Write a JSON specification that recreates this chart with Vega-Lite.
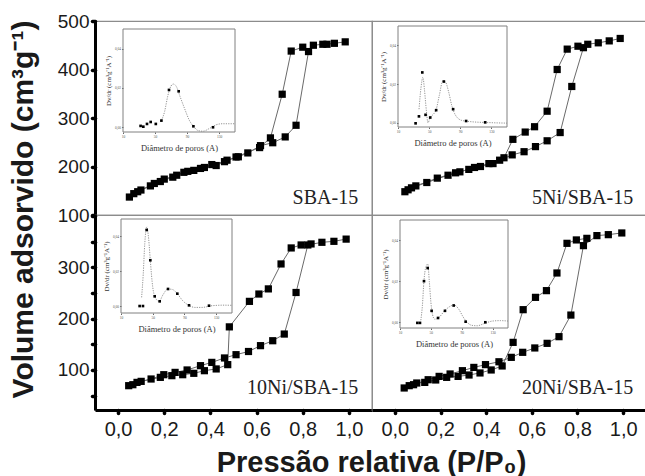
{
  "$schema": "https://vega.github.io/schema/vega-lite/v6.json",
  "padding": {"left": 7, "top": 11, "right": 0, "bottom": 0},
  "background": "white",
  "spacing": 0,
  "bounds": "flush",
  "columns": 2,
  "datasets": {
    "lab": [
      {"s": "SBA-15", "t": "SBA-15"},
      {"s": "5Ni", "t": "5Ni/SBA-15"},
      {"s": "10Ni", "t": "10Ni/SBA-15"},
      {"s": "20Ni", "t": "20Ni/SBA-15"}
    ],
    "iso": [
      {"s": "SBA-15", "b": "ads", "p": 0.049, "v": 137},
      {"s": "SBA-15", "b": "ads", "p": 0.085, "v": 148},
      {"s": "SBA-15", "b": "ads", "p": 0.14, "v": 160},
      {"s": "SBA-15", "b": "ads", "p": 0.183, "v": 169},
      {"s": "SBA-15", "b": "ads", "p": 0.237, "v": 178},
      {"s": "SBA-15", "b": "ads", "p": 0.285, "v": 188},
      {"s": "SBA-15", "b": "ads", "p": 0.328, "v": 192},
      {"s": "SBA-15", "b": "ads", "p": 0.374, "v": 198},
      {"s": "SBA-15", "b": "ads", "p": 0.425, "v": 202},
      {"s": "SBA-15", "b": "ads", "p": 0.472, "v": 213},
      {"s": "SBA-15", "b": "ads", "p": 0.521, "v": 220},
      {"s": "SBA-15", "b": "ads", "p": 0.562, "v": 228},
      {"s": "SBA-15", "b": "ads", "p": 0.617, "v": 243},
      {"s": "SBA-15", "b": "ads", "p": 0.67, "v": 249},
      {"s": "SBA-15", "b": "ads", "p": 0.724, "v": 261},
      {"s": "SBA-15", "b": "ads", "p": 0.771, "v": 285},
      {"s": "SBA-15", "b": "ads", "p": 0.825, "v": 437},
      {"s": "SBA-15", "b": "ads", "p": 0.846, "v": 450},
      {"s": "SBA-15", "b": "ads", "p": 0.887, "v": 452},
      {"s": "SBA-15", "b": "ads", "p": 0.905, "v": 452},
      {"s": "SBA-15", "b": "ads", "p": 0.937, "v": 454},
      {"s": "SBA-15", "b": "ads", "p": 0.984, "v": 457},
      {"s": "SBA-15", "b": "des", "p": 0.80, "v": 446},
      {"s": "SBA-15", "b": "des", "p": 0.75, "v": 438},
      {"s": "SBA-15", "b": "des", "p": 0.711, "v": 349},
      {"s": "SBA-15", "b": "des", "p": 0.66, "v": 259},
      {"s": "SBA-15", "b": "des", "p": 0.613, "v": 239},
      {"s": "SBA-15", "b": "des", "p": 0.511, "v": 219.6},
      {"s": "SBA-15", "b": "des", "p": 0.461, "v": 210},
      {"s": "SBA-15", "b": "des", "p": 0.406, "v": 204},
      {"s": "SBA-15", "b": "des", "p": 0.357, "v": 196},
      {"s": "SBA-15", "b": "des", "p": 0.302, "v": 190},
      {"s": "SBA-15", "b": "des", "p": 0.254, "v": 182},
      {"s": "SBA-15", "b": "des", "p": 0.2, "v": 174},
      {"s": "SBA-15", "b": "des", "p": 0.157, "v": 165},
      {"s": "SBA-15", "b": "des", "p": 0.099, "v": 151.5},
      {"s": "SBA-15", "b": "des", "p": 0.068, "v": 144},

      {"s": "5Ni", "b": "ads", "p": 0.044, "v": 148},
      {"s": "5Ni", "b": "ads", "p": 0.073, "v": 156},
      {"s": "5Ni", "b": "ads", "p": 0.14, "v": 167},
      {"s": "5Ni", "b": "ads", "p": 0.233, "v": 182},
      {"s": "5Ni", "b": "ads", "p": 0.285, "v": 189},
      {"s": "5Ni", "b": "ads", "p": 0.349, "v": 198},
      {"s": "5Ni", "b": "ads", "p": 0.412, "v": 206},
      {"s": "5Ni", "b": "ads", "p": 0.459, "v": 213},
      {"s": "5Ni", "b": "ads", "p": 0.514, "v": 224},
      {"s": "5Ni", "b": "ads", "p": 0.566, "v": 230.5},
      {"s": "5Ni", "b": "ads", "p": 0.616, "v": 241},
      {"s": "5Ni", "b": "ads", "p": 0.667, "v": 253},
      {"s": "5Ni", "b": "ads", "p": 0.724, "v": 270},
      {"s": "5Ni", "b": "ads", "p": 0.775, "v": 365},
      {"s": "5Ni", "b": "ads", "p": 0.826, "v": 445},
      {"s": "5Ni", "b": "ads", "p": 0.845, "v": 452},
      {"s": "5Ni", "b": "ads", "p": 0.891, "v": 455},
      {"s": "5Ni", "b": "ads", "p": 0.939, "v": 459},
      {"s": "5Ni", "b": "ads", "p": 0.987, "v": 464},
      {"s": "5Ni", "b": "des", "p": 0.802, "v": 448},
      {"s": "5Ni", "b": "des", "p": 0.755, "v": 442},
      {"s": "5Ni", "b": "des", "p": 0.711, "v": 400},
      {"s": "5Ni", "b": "des", "p": 0.667, "v": 314},
      {"s": "5Ni", "b": "des", "p": 0.612, "v": 282},
      {"s": "5Ni", "b": "des", "p": 0.571, "v": 271},
      {"s": "5Ni", "b": "des", "p": 0.517, "v": 256},
      {"s": "5Ni", "b": "des", "p": 0.478, "v": 218},
      {"s": "5Ni", "b": "des", "p": 0.43, "v": 206},
      {"s": "5Ni", "b": "des", "p": 0.375, "v": 200},
      {"s": "5Ni", "b": "des", "p": 0.324, "v": 194},
      {"s": "5Ni", "b": "des", "p": 0.266, "v": 187},
      {"s": "5Ni", "b": "des", "p": 0.186, "v": 176},
      {"s": "5Ni", "b": "des", "p": 0.092, "v": 160},
      {"s": "5Ni", "b": "des", "p": 0.058, "v": 152},

      {"s": "10Ni", "b": "ads", "p": 0.046, "v": 69.4},
      {"s": "10Ni", "b": "ads", "p": 0.082, "v": 75.8},
      {"s": "10Ni", "b": "ads", "p": 0.143, "v": 82.4},
      {"s": "10Ni", "b": "ads", "p": 0.198, "v": 90.8},
      {"s": "10Ni", "b": "ads", "p": 0.247, "v": 95.3},
      {"s": "10Ni", "b": "ads", "p": 0.299, "v": 100},
      {"s": "10Ni", "b": "ads", "p": 0.357, "v": 108.4},
      {"s": "10Ni", "b": "ads", "p": 0.406, "v": 114.8},
      {"s": "10Ni", "b": "ads", "p": 0.461, "v": 123.4},
      {"s": "10Ni", "b": "ads", "p": 0.511, "v": 129.8},
      {"s": "10Ni", "b": "ads", "p": 0.565, "v": 136},
      {"s": "10Ni", "b": "ads", "p": 0.617, "v": 147.4},
      {"s": "10Ni", "b": "ads", "p": 0.67, "v": 157},
      {"s": "10Ni", "b": "ads", "p": 0.72, "v": 170},
      {"s": "10Ni", "b": "ads", "p": 0.771, "v": 251},
      {"s": "10Ni", "b": "ads", "p": 0.822, "v": 343.6},
      {"s": "10Ni", "b": "ads", "p": 0.883, "v": 348.8},
      {"s": "10Ni", "b": "ads", "p": 0.935, "v": 350.7},
      {"s": "10Ni", "b": "ads", "p": 0.988, "v": 355},
      {"s": "10Ni", "b": "des", "p": 0.836, "v": 345.6},
      {"s": "10Ni", "b": "des", "p": 0.793, "v": 343.6},
      {"s": "10Ni", "b": "des", "p": 0.75, "v": 337.8},
      {"s": "10Ni", "b": "des", "p": 0.706, "v": 306.6},
      {"s": "10Ni", "b": "des", "p": 0.651, "v": 258},
      {"s": "10Ni", "b": "des", "p": 0.61, "v": 248},
      {"s": "10Ni", "b": "des", "p": 0.569, "v": 233.7},
      {"s": "10Ni", "b": "des", "p": 0.482, "v": 184},
      {"s": "10Ni", "b": "des", "p": 0.475, "v": 110.4},
      {"s": "10Ni", "b": "des", "p": 0.425, "v": 102},
      {"s": "10Ni", "b": "des", "p": 0.374, "v": 98.6},
      {"s": "10Ni", "b": "des", "p": 0.328, "v": 93.5},
      {"s": "10Ni", "b": "des", "p": 0.28, "v": 90.8},
      {"s": "10Ni", "b": "des", "p": 0.233, "v": 88.9},
      {"s": "10Ni", "b": "des", "p": 0.183, "v": 85.6},
      {"s": "10Ni", "b": "des", "p": 0.1, "v": 77.8},
      {"s": "10Ni", "b": "des", "p": 0.064, "v": 71.3},

      {"s": "20Ni", "b": "ads", "p": 0.041, "v": 64.9},
      {"s": "20Ni", "b": "ads", "p": 0.082, "v": 71.3},
      {"s": "20Ni", "b": "ads", "p": 0.146, "v": 81},
      {"s": "20Ni", "b": "ads", "p": 0.194, "v": 87.5},
      {"s": "20Ni", "b": "ads", "p": 0.242, "v": 92.2},
      {"s": "20Ni", "b": "ads", "p": 0.296, "v": 98.6},
      {"s": "20Ni", "b": "ads", "p": 0.346, "v": 105},
      {"s": "20Ni", "b": "ads", "p": 0.397, "v": 110.4},
      {"s": "20Ni", "b": "ads", "p": 0.456, "v": 116},
      {"s": "20Ni", "b": "ads", "p": 0.51, "v": 124.6},
      {"s": "20Ni", "b": "ads", "p": 0.56, "v": 134.4},
      {"s": "20Ni", "b": "ads", "p": 0.613, "v": 142.9},
      {"s": "20Ni", "b": "ads", "p": 0.667, "v": 151.9},
      {"s": "20Ni", "b": "ads", "p": 0.719, "v": 164.9},
      {"s": "20Ni", "b": "ads", "p": 0.771, "v": 207},
      {"s": "20Ni", "b": "ads", "p": 0.826, "v": 342.3},
      {"s": "20Ni", "b": "ads", "p": 0.885, "v": 361.8},
      {"s": "20Ni", "b": "ads", "p": 0.935, "v": 363.7},
      {"s": "20Ni", "b": "ads", "p": 0.994, "v": 367},
      {"s": "20Ni", "b": "des", "p": 0.841, "v": 356.5},
      {"s": "20Ni", "b": "des", "p": 0.795, "v": 353.4},
      {"s": "20Ni", "b": "des", "p": 0.754, "v": 346.8},
      {"s": "20Ni", "b": "des", "p": 0.71, "v": 289},
      {"s": "20Ni", "b": "des", "p": 0.664, "v": 254.6},
      {"s": "20Ni", "b": "des", "p": 0.616, "v": 241.5},
      {"s": "20Ni", "b": "des", "p": 0.562, "v": 217.5},
      {"s": "20Ni", "b": "des", "p": 0.518, "v": 153.8},
      {"s": "20Ni", "b": "des", "p": 0.47, "v": 107.8},
      {"s": "20Ni", "b": "des", "p": 0.422, "v": 100},
      {"s": "20Ni", "b": "des", "p": 0.373, "v": 94.2},
      {"s": "20Ni", "b": "des", "p": 0.325, "v": 90.2},
      {"s": "20Ni", "b": "des", "p": 0.277, "v": 87.5},
      {"s": "20Ni", "b": "des", "p": 0.227, "v": 85.6},
      {"s": "20Ni", "b": "des", "p": 0.179, "v": 80.5},
      {"s": "20Ni", "b": "des", "p": 0.131, "v": 75.8},
      {"s": "20Ni", "b": "des", "p": 0.096, "v": 74.6},
      {"s": "20Ni", "b": "des", "p": 0.063, "v": 69.4}
    ],
    "psd": [
      {"s": "SBA-15", "k": "pt", "d": 32, "y": 0.0007},
      {"s": "SBA-15", "k": "pt", "d": 35.4, "y": 0.0003},
      {"s": "SBA-15", "k": "pt", "d": 40, "y": 0.0017},
      {"s": "SBA-15", "k": "pt", "d": 44.6, "y": 0.0027},
      {"s": "SBA-15", "k": "pt", "d": 51, "y": 0.0017},
      {"s": "SBA-15", "k": "pt", "d": 58, "y": 0.0034},
      {"s": "SBA-15", "k": "pt", "d": 67.5, "y": 0.019},
      {"s": "SBA-15", "k": "pt", "d": 79.6, "y": 0.0183},
      {"s": "SBA-15", "k": "pt", "d": 98, "y": 0.0005},
      {"s": "SBA-15", "k": "pt", "d": 122.5, "y": 0.0},
      {"s": "SBA-15", "k": "fit", "d": 58, "y": 0.0034},
      {"s": "SBA-15", "k": "fit", "d": 62, "y": 0.008},
      {"s": "SBA-15", "k": "fit", "d": 66, "y": 0.016},
      {"s": "SBA-15", "k": "fit", "d": 70, "y": 0.021},
      {"s": "SBA-15", "k": "fit", "d": 73, "y": 0.022},
      {"s": "SBA-15", "k": "fit", "d": 77, "y": 0.0205},
      {"s": "SBA-15", "k": "fit", "d": 81, "y": 0.016},
      {"s": "SBA-15", "k": "fit", "d": 87, "y": 0.0095},
      {"s": "SBA-15", "k": "fit", "d": 93, "y": 0.0035},
      {"s": "SBA-15", "k": "fit", "d": 98, "y": 0.0005},
      {"s": "SBA-15", "k": "fit", "d": 104, "y": -0.0017},
      {"s": "SBA-15", "k": "fit", "d": 110, "y": -0.002},
      {"s": "SBA-15", "k": "fit", "d": 118, "y": -0.0006},
      {"s": "SBA-15", "k": "fit", "d": 126, "y": 0.0012},
      {"s": "SBA-15", "k": "fit", "d": 134, "y": 0.0018},
      {"s": "SBA-15", "k": "fit", "d": 150, "y": 0.0018},

      {"s": "5Ni", "k": "pt", "d": 32.6, "y": -0.0003},
      {"s": "5Ni", "k": "pt", "d": 36.9, "y": 0.0033},
      {"s": "5Ni", "k": "pt", "d": 41.2, "y": 0.026},
      {"s": "5Ni", "k": "pt", "d": 45.4, "y": 0.0041},
      {"s": "5Ni", "k": "pt", "d": 51.4, "y": 0.0027},
      {"s": "5Ni", "k": "pt", "d": 59, "y": 0.0065},
      {"s": "5Ni", "k": "pt", "d": 68.9, "y": 0.0213},
      {"s": "5Ni", "k": "pt", "d": 80.8, "y": 0.007},
      {"s": "5Ni", "k": "pt", "d": 97.5, "y": 0.0009},
      {"s": "5Ni", "k": "pt", "d": 122, "y": 0.0002},
      {"s": "5Ni", "k": "fit", "d": 37, "y": 0.007},
      {"s": "5Ni", "k": "fit", "d": 39.5, "y": 0.018},
      {"s": "5Ni", "k": "fit", "d": 42, "y": 0.0235},
      {"s": "5Ni", "k": "fit", "d": 44, "y": 0.017},
      {"s": "5Ni", "k": "fit", "d": 46.5, "y": 0.006},
      {"s": "5Ni", "k": "fit", "d": 48.5, "y": 0.0},
      {"s": "5Ni", "k": "fit", "d": 51.4, "y": 0.0028},
      {"s": "5Ni", "k": "fit", "d": 55, "y": 0.0042},
      {"s": "5Ni", "k": "fit", "d": 59, "y": 0.0068},
      {"s": "5Ni", "k": "fit", "d": 63, "y": 0.014},
      {"s": "5Ni", "k": "fit", "d": 67.5, "y": 0.0215},
      {"s": "5Ni", "k": "fit", "d": 71, "y": 0.021},
      {"s": "5Ni", "k": "fit", "d": 75, "y": 0.016},
      {"s": "5Ni", "k": "fit", "d": 79, "y": 0.009},
      {"s": "5Ni", "k": "fit", "d": 84, "y": 0.0038},
      {"s": "5Ni", "k": "fit", "d": 92, "y": 0.0012},
      {"s": "5Ni", "k": "fit", "d": 105, "y": 0.0005},
      {"s": "5Ni", "k": "fit", "d": 125, "y": 0.0001},
      {"s": "5Ni", "k": "fit", "d": 150, "y": -0.0002},

      {"s": "10Ni", "k": "pt", "d": 33.5, "y": 0.0},
      {"s": "10Ni", "k": "pt", "d": 37.7, "y": 0.0},
      {"s": "10Ni", "k": "pt", "d": 42.4, "y": 0.0437},
      {"s": "10Ni", "k": "pt", "d": 47, "y": 0.0263},
      {"s": "10Ni", "k": "pt", "d": 52.5, "y": 0.0056},
      {"s": "10Ni", "k": "pt", "d": 58.8, "y": 0.0027},
      {"s": "10Ni", "k": "pt", "d": 69.3, "y": 0.0098},
      {"s": "10Ni", "k": "pt", "d": 81, "y": 0.0071},
      {"s": "10Ni", "k": "pt", "d": 95.8, "y": 0.0004},
      {"s": "10Ni", "k": "pt", "d": 121, "y": 0.0002},
      {"s": "10Ni", "k": "fit", "d": 36, "y": 0.005},
      {"s": "10Ni", "k": "fit", "d": 38, "y": 0.018},
      {"s": "10Ni", "k": "fit", "d": 40, "y": 0.036},
      {"s": "10Ni", "k": "fit", "d": 42.5, "y": 0.0455},
      {"s": "10Ni", "k": "fit", "d": 45, "y": 0.038},
      {"s": "10Ni", "k": "fit", "d": 47, "y": 0.026},
      {"s": "10Ni", "k": "fit", "d": 50, "y": 0.011},
      {"s": "10Ni", "k": "fit", "d": 53, "y": 0.005},
      {"s": "10Ni", "k": "fit", "d": 58, "y": 0.0027},
      {"s": "10Ni", "k": "fit", "d": 63, "y": 0.0065},
      {"s": "10Ni", "k": "fit", "d": 69, "y": 0.0098},
      {"s": "10Ni", "k": "fit", "d": 75, "y": 0.0095},
      {"s": "10Ni", "k": "fit", "d": 81, "y": 0.0071},
      {"s": "10Ni", "k": "fit", "d": 88, "y": 0.003},
      {"s": "10Ni", "k": "fit", "d": 96, "y": 0.0003},
      {"s": "10Ni", "k": "fit", "d": 103, "y": -0.0008},
      {"s": "10Ni", "k": "fit", "d": 112, "y": -0.0008},
      {"s": "10Ni", "k": "fit", "d": 125, "y": 0.0002},
      {"s": "10Ni", "k": "fit", "d": 140, "y": 0.0005},
      {"s": "10Ni", "k": "fit", "d": 150, "y": 0.0004},

      {"s": "20Ni", "k": "pt", "d": 32.5, "y": -0.0003},
      {"s": "20Ni", "k": "pt", "d": 35.9, "y": -0.0003},
      {"s": "20Ni", "k": "pt", "d": 41.1, "y": 0.0201},
      {"s": "20Ni", "k": "pt", "d": 45.9, "y": 0.0265},
      {"s": "20Ni", "k": "pt", "d": 51, "y": 0.0056},
      {"s": "20Ni", "k": "pt", "d": 59.3, "y": 0.0021},
      {"s": "20Ni", "k": "pt", "d": 68.3, "y": 0.0056},
      {"s": "20Ni", "k": "pt", "d": 79.6, "y": 0.0082},
      {"s": "20Ni", "k": "pt", "d": 95.1, "y": 0.0003},
      {"s": "20Ni", "k": "pt", "d": 120.6, "y": 0.0},
      {"s": "20Ni", "k": "fit", "d": 37, "y": 0.001},
      {"s": "20Ni", "k": "fit", "d": 39, "y": 0.008},
      {"s": "20Ni", "k": "fit", "d": 41, "y": 0.02},
      {"s": "20Ni", "k": "fit", "d": 43.5, "y": 0.027},
      {"s": "20Ni", "k": "fit", "d": 46, "y": 0.0285},
      {"s": "20Ni", "k": "fit", "d": 48, "y": 0.02},
      {"s": "20Ni", "k": "fit", "d": 50, "y": 0.01},
      {"s": "20Ni", "k": "fit", "d": 52, "y": 0.004},
      {"s": "20Ni", "k": "fit", "d": 55, "y": 0.0015},
      {"s": "20Ni", "k": "fit", "d": 60, "y": 0.0022},
      {"s": "20Ni", "k": "fit", "d": 68, "y": 0.0057},
      {"s": "20Ni", "k": "fit", "d": 75, "y": 0.0078},
      {"s": "20Ni", "k": "fit", "d": 80, "y": 0.0085},
      {"s": "20Ni", "k": "fit", "d": 86, "y": 0.0065},
      {"s": "20Ni", "k": "fit", "d": 92, "y": 0.0025},
      {"s": "20Ni", "k": "fit", "d": 97, "y": 0.0},
      {"s": "20Ni", "k": "fit", "d": 103, "y": -0.0015},
      {"s": "20Ni", "k": "fit", "d": 110, "y": -0.0017},
      {"s": "20Ni", "k": "fit", "d": 120, "y": -0.0005},
      {"s": "20Ni", "k": "fit", "d": 130, "y": 0.0006},
      {"s": "20Ni", "k": "fit", "d": 140, "y": 0.0008},
      {"s": "20Ni", "k": "fit", "d": 150, "y": 0.0006}
    ]
  },
  "concat": [
    {
      "width": 277, "height": 194,
      "layer": [
        {
          "data": {"name": "iso"},
          "transform": [{"filter": "datum.s == 'SBA-15'"}],
          "layer": [
            {"mark": {"type": "line", "color": "#6a6a6a", "strokeWidth": 1},
             "encoding": {
               "x": {"field": "p", "type": "quantitative", "scale": {"domain": [-0.1, 1.1], "nice": false, "zero": false}, "axis": null},
               "y": {"field": "v", "type": "quantitative", "scale": {"domain": [100, 500], "nice": false, "zero": false},
                     "axis": {"values": [100, 150, 200, 250, 300, 350, 400, 450, 500], "labelExpr": "datum.value % 100 == 0 ? datum.label : ''", "labelOverlap": false,
                              "domainColor": "#000", "domainWidth": 3, "tickColor": "#000", "tickWidth": 3.5, "tickSize": 3, "tickCap": "round",
                              "labelFontSize": 19, "labelColor": "#1a1a1a", "labelPadding": 3, "labelFont": "Liberation Sans",
                              "title": "Volume adsorvido (cm³g⁻¹)", "titleFont": "Liberation Sans", "titleFontSize": 30, "titleFontWeight": "bold", "titleColor": "#1a1a1a",
                              "titleX": -72, "titleY": 188, "titleAngle": 270, "titleBaseline": "middle", "titleAlign": "center"}},
               "detail": {"field": "b"}}},
            {"mark": {"type": "square", "size": 52, "color": "#000", "opacity": 1},
             "encoding": {"x": {"field": "p", "type": "quantitative"}, "y": {"field": "v", "type": "quantitative"}}},
            {"data": {"name": "lab"}, "transform": [{"filter": "datum.s == 'SBA-15'"}],
             "mark": {"type": "text", "align": "right", "baseline": "alphabetic", "font": "Liberation Serif", "fontSize": 20, "color": "#222"},
             "encoding": {"x": {"datum": 1.04, "type": "quantitative"}, "y": {"datum": 122.7, "type": "quantitative"}, "text": {"field": "t"}}}
          ]
        },
        {
          "data": {"name": "psd"},
          "transform": [{"filter": "datum.s == 'SBA-15'"}],
          "layer": [
            {"transform": [{"filter": "datum.k == 'fit'"}],
             "mark": {"type": "line", "color": "#888", "strokeWidth": 0.9, "strokeDash": [1.2, 1.2], "interpolate": "monotone"},
             "encoding": {
               "x": {"field": "d", "type": "quantitative", "scale": {"domain": [10, 150], "range": [28, 140], "nice": false, "zero": false},
                     "axis": {"orient": "bottom", "offset": -83, "values": [10,20,30,40,50,60,70,80,90,100,110,120,130,140,150], "domain": false, "labelOverlap": false,
                              "tickSize": 1.5, "tickColor": "#666", "labelFontSize": 3.5, "labelColor": "#555", "labelPadding": 1, "labelFont": "Liberation Serif",
                              "title": "Diâmetro de poros (A)", "titleFont": "Liberation Serif", "titleFontSize": 8.5, "titleFontWeight": "normal", "titleColor": "#333", "titlePadding": 5}},
               "y": {"field": "y", "type": "quantitative", "scale": {"domain": [-0.0024, 0.05], "range": [111, 8], "nice": false, "zero": false},
                     "axis": {"orient": "left", "offset": -28, "values": [0, 0.01, 0.02, 0.03, 0.04, 0.05], "labelExpr": "replace(format(datum.value, '.2f'), '.', ',')", "domain": false, "labelOverlap": false,
                              "tickSize": 1.5, "tickColor": "#666", "labelFontSize": 3.5, "labelColor": "#555", "labelPadding": 1, "labelFont": "Liberation Serif",
                              "title": "Dv/dr (cm³g⁻¹A⁻¹)", "titleFont": "Liberation Serif", "titleFontSize": 7, "titleFontWeight": "normal", "titleColor": "#333", "titlePadding": 2.5}}}},
            {"transform": [{"filter": "datum.k == 'pt'"}],
             "mark": {"type": "square", "size": 7, "color": "#000", "opacity": 1},
             "encoding": {"x": {"field": "d", "type": "quantitative"}, "y": {"field": "y", "type": "quantitative"}}},
            {"data": {"name": "lab"}, "transform": [{"filter": "datum.s == 'SBA-15'"}],
             "mark": {"type": "rect", "filled": false, "stroke": "#808080", "strokeWidth": 1},
             "encoding": {"x": {"datum": 10, "type": "quantitative"}, "x2": {"datum": 150}, "y": {"datum": -0.0024, "type": "quantitative"}, "y2": {"datum": 0.05}}}
          ]
        }
      ],
      "resolve": {"scale": {"x": "independent", "y": "independent"}, "axis": {"x": "independent", "y": "independent"}}
    },
    {
      "width": 274, "height": 194,
      "layer": [
        {
          "data": {"name": "iso"},
          "transform": [{"filter": "datum.s == '5Ni'"}],
          "layer": [
            {"mark": {"type": "line", "color": "#6a6a6a", "strokeWidth": 1},
             "encoding": {
               "x": {"field": "p", "type": "quantitative", "scale": {"domain": [-0.1, 1.1], "nice": false, "zero": false}, "axis": null},
               "y": {"field": "v", "type": "quantitative", "scale": {"domain": [100, 500], "nice": false, "zero": false}, "axis": null},
               "detail": {"field": "b"}}},
            {"mark": {"type": "square", "size": 52, "color": "#000", "opacity": 1},
             "encoding": {"x": {"field": "p", "type": "quantitative"}, "y": {"field": "v", "type": "quantitative"}}},
            {"data": {"name": "lab"}, "transform": [{"filter": "datum.s == '5Ni'"}],
             "mark": {"type": "text", "align": "right", "baseline": "alphabetic", "font": "Liberation Serif", "fontSize": 20, "color": "#222"},
             "encoding": {"x": {"datum": 1.044, "type": "quantitative"}, "y": {"datum": 122.7, "type": "quantitative"}, "text": {"field": "t"}}}
          ]
        },
        {
          "data": {"name": "psd"},
          "transform": [{"filter": "datum.s == '5Ni'"}],
          "layer": [
            {"transform": [{"filter": "datum.k == 'fit'"}],
             "mark": {"type": "line", "color": "#888", "strokeWidth": 0.9, "strokeDash": [1.2, 1.2], "interpolate": "monotone"},
             "encoding": {
               "x": {"field": "d", "type": "quantitative", "scale": {"domain": [10, 150], "range": [26, 135], "nice": false, "zero": false},
                     "axis": {"orient": "bottom", "offset": -88, "values": [10,20,30,40,50,60,70,80,90,100,110,120,130,140,150], "domain": false, "labelOverlap": false,
                              "tickSize": 1.5, "tickColor": "#666", "labelFontSize": 3.5, "labelColor": "#555", "labelPadding": 1, "labelFont": "Liberation Serif",
                              "title": "Diâmetro de poros (A)", "titleFont": "Liberation Serif", "titleFontSize": 8.5, "titleFontWeight": "normal", "titleColor": "#333", "titlePadding": 5}},
               "y": {"field": "y", "type": "quantitative", "scale": {"domain": [-0.0022, 0.05], "range": [106, 5], "nice": false, "zero": false},
                     "axis": {"orient": "left", "offset": -26, "values": [0, 0.01, 0.02, 0.03, 0.04, 0.05], "labelExpr": "replace(format(datum.value, '.2f'), '.', ',')", "domain": false, "labelOverlap": false,
                              "tickSize": 1.5, "tickColor": "#666", "labelFontSize": 3.5, "labelColor": "#555", "labelPadding": 1, "labelFont": "Liberation Serif",
                              "title": "Dv/dr (cm³g⁻¹A⁻¹)", "titleFont": "Liberation Serif", "titleFontSize": 7, "titleFontWeight": "normal", "titleColor": "#333", "titlePadding": 2.5}}}},
            {"transform": [{"filter": "datum.k == 'pt'"}],
             "mark": {"type": "square", "size": 7, "color": "#000", "opacity": 1},
             "encoding": {"x": {"field": "d", "type": "quantitative"}, "y": {"field": "y", "type": "quantitative"}}},
            {"data": {"name": "lab"}, "transform": [{"filter": "datum.s == '5Ni'"}],
             "mark": {"type": "rect", "filled": false, "stroke": "#808080", "strokeWidth": 1},
             "encoding": {"x": {"datum": 10, "type": "quantitative"}, "x2": {"datum": 150}, "y": {"datum": -0.0022, "type": "quantitative"}, "y2": {"datum": 0.05}}}
          ]
        }
      ],
      "resolve": {"scale": {"x": "independent", "y": "independent"}, "axis": {"x": "independent", "y": "independent"}}
    },
    {
      "width": 277, "height": 195,
      "layer": [
        {
          "data": {"name": "iso"},
          "transform": [{"filter": "datum.s == '10Ni'"}],
          "layer": [
            {"mark": {"type": "line", "color": "#6a6a6a", "strokeWidth": 1},
             "encoding": {
               "x": {"field": "p", "type": "quantitative", "scale": {"domain": [-0.1, 1.1], "nice": false, "zero": false},
                     "axis": {"values": [0, 0.1, 0.2, 0.3, 0.4, 0.5, 0.6, 0.7, 0.8, 0.9, 1.0], "labelExpr": "round(datum.value * 10) % 2 == 0 ? replace(format(datum.value, '.1f'), '.', ',') : ''", "labelOverlap": false,
                              "domainColor": "#000", "domainWidth": 3, "tickColor": "#000", "tickWidth": 3.5, "tickSize": 3, "tickCap": "round",
                              "labelFontSize": 20, "labelColor": "#1a1a1a", "labelPadding": 6, "labelFont": "Liberation Sans",
                              "title": "Pressão relativa (P/P₀)", "titleFont": "Liberation Sans", "titleFontSize": 29, "titleFontWeight": "bold", "titleColor": "#1a1a1a",
                              "titleX": 276, "titleY": 61, "titleBaseline": "alphabetic", "titleAlign": "center"}},
               "y": {"field": "v", "type": "quantitative", "scale": {"domain": [22, 402], "nice": false, "zero": false},
                     "axis": {"values": [100, 200, 300], "format": "d", "labelOverlap": false, "orient": "left",
                              "domainColor": "#000", "domainWidth": 3, "tickColor": "#000", "tickWidth": 3.5, "tickSize": 3, "tickCap": "round",
                              "labelFontSize": 19, "labelColor": "#1a1a1a", "labelPadding": 3, "labelFont": "Liberation Sans", "title": null}},
               "detail": {"field": "b"}}},
            {"mark": {"type": "square", "size": 52, "color": "#000", "opacity": 1},
             "encoding": {"x": {"field": "p", "type": "quantitative"}, "y": {"field": "v", "type": "quantitative"}}}
          ]
        },
        {
          "data": {"name": "lab"}, "transform": [{"filter": "datum.s == '10Ni'"}],
          "mark": {"type": "text", "align": "right", "baseline": "alphabetic", "font": "Liberation Serif", "fontSize": 20, "color": "#222"},
          "encoding": {
            "x": {"datum": 1.04, "type": "quantitative", "scale": {"domain": [-0.1, 1.1], "nice": false, "zero": false}, "axis": null},
            "y": {"datum": 53, "type": "quantitative", "scale": {"domain": [22, 402], "nice": false, "zero": false},
                  "axis": {"values": [50, 150, 250, 350, 400], "labels": false, "domain": false, "orient": "left", "title": null,
                           "tickColor": "#000", "tickWidth": 3.5, "tickSize": 3, "tickCap": "round"}},
            "text": {"field": "t"}}
        },
        {
          "data": {"name": "psd"},
          "transform": [{"filter": "datum.s == '10Ni'"}],
          "layer": [
            {"transform": [{"filter": "datum.k == 'fit'"}],
             "mark": {"type": "line", "color": "#888", "strokeWidth": 0.9, "strokeDash": [1.2, 1.2], "interpolate": "monotone"},
             "encoding": {
               "x": {"field": "d", "type": "quantitative", "scale": {"domain": [10, 150], "range": [26, 137], "nice": false, "zero": false},
                     "axis": {"orient": "bottom", "offset": -97, "values": [10,20,30,40,50,60,70,80,90,100,110,120,130,140,150], "domain": false, "labelOverlap": false,
                              "tickSize": 1.5, "tickColor": "#666", "labelFontSize": 3.5, "labelColor": "#555", "labelPadding": 1, "labelFont": "Liberation Serif",
                              "title": "Diâmetro de poros (A)", "titleFont": "Liberation Serif", "titleFontSize": 8.5, "titleFontWeight": "normal", "titleColor": "#333", "titlePadding": 5}},
               "y": {"field": "y", "type": "quantitative", "scale": {"domain": [-0.004, 0.05], "range": [98, 4], "nice": false, "zero": false},
                     "axis": {"orient": "left", "offset": -26, "values": [0, 0.01, 0.02, 0.03, 0.04, 0.05], "labelExpr": "replace(format(datum.value, '.2f'), '.', ',')", "domain": false, "labelOverlap": false,
                              "tickSize": 1.5, "tickColor": "#666", "labelFontSize": 3.5, "labelColor": "#555", "labelPadding": 1, "labelFont": "Liberation Serif",
                              "title": "Dv/dr (cm³g⁻¹A⁻¹)", "titleFont": "Liberation Serif", "titleFontSize": 7, "titleFontWeight": "normal", "titleColor": "#333", "titlePadding": 2.5}}}},
            {"transform": [{"filter": "datum.k == 'pt'"}],
             "mark": {"type": "square", "size": 7, "color": "#000", "opacity": 1},
             "encoding": {"x": {"field": "d", "type": "quantitative"}, "y": {"field": "y", "type": "quantitative"}}},
            {"data": {"name": "lab"}, "transform": [{"filter": "datum.s == '10Ni'"}],
             "mark": {"type": "rect", "filled": false, "stroke": "#808080", "strokeWidth": 1},
             "encoding": {"x": {"datum": 10, "type": "quantitative"}, "x2": {"datum": 150}, "y": {"datum": -0.004, "type": "quantitative"}, "y2": {"datum": 0.05}}}
          ]
        }
      ],
      "resolve": {"scale": {"x": "independent", "y": "independent"}, "axis": {"x": "independent", "y": "independent"}}
    },
    {
      "width": 274, "height": 195,
      "layer": [
        {
          "data": {"name": "iso"},
          "transform": [{"filter": "datum.s == '20Ni'"}],
          "layer": [
            {"mark": {"type": "line", "color": "#6a6a6a", "strokeWidth": 1},
             "encoding": {
               "x": {"field": "p", "type": "quantitative", "scale": {"domain": [-0.1, 1.1], "nice": false, "zero": false},
                     "axis": {"values": [0, 0.1, 0.2, 0.3, 0.4, 0.5, 0.6, 0.7, 0.8, 0.9, 1.0], "labelExpr": "round(datum.value * 10) % 2 == 0 ? replace(format(datum.value, '.1f'), '.', ',') : ''", "labelOverlap": false,
                              "domainColor": "#000", "domainWidth": 3, "tickColor": "#000", "tickWidth": 3.5, "tickSize": 3, "tickCap": "round",
                              "labelFontSize": 20, "labelColor": "#1a1a1a", "labelPadding": 6, "labelFont": "Liberation Sans", "title": null}},
               "y": {"field": "v", "type": "quantitative", "scale": {"domain": [22, 402], "nice": false, "zero": false}, "axis": null},
               "detail": {"field": "b"}}},
            {"mark": {"type": "square", "size": 52, "color": "#000", "opacity": 1},
             "encoding": {"x": {"field": "p", "type": "quantitative"}, "y": {"field": "v", "type": "quantitative"}}},
            {"data": {"name": "lab"}, "transform": [{"filter": "datum.s == '20Ni'"}],
             "mark": {"type": "text", "align": "right", "baseline": "alphabetic", "font": "Liberation Serif", "fontSize": 20, "color": "#222"},
             "encoding": {"x": {"datum": 1.044, "type": "quantitative"}, "y": {"datum": 53, "type": "quantitative"}, "text": {"field": "t"}}}
          ]
        },
        {
          "data": {"name": "psd"},
          "transform": [{"filter": "datum.s == '20Ni'"}],
          "layer": [
            {"transform": [{"filter": "datum.k == 'fit'"}],
             "mark": {"type": "line", "color": "#888", "strokeWidth": 0.9, "strokeDash": [1.2, 1.2], "interpolate": "monotone"},
             "encoding": {
               "x": {"field": "d", "type": "quantitative", "scale": {"domain": [10, 150], "range": [28, 136], "nice": false, "zero": false},
                     "axis": {"orient": "bottom", "offset": -82, "values": [10,20,30,40,50,60,70,80,90,100,110,120,130,140,150], "domain": false, "labelOverlap": false,
                              "tickSize": 1.5, "tickColor": "#666", "labelFontSize": 3.5, "labelColor": "#555", "labelPadding": 1, "labelFont": "Liberation Serif",
                              "title": "Diâmetro de poros (A)", "titleFont": "Liberation Serif", "titleFontSize": 8.5, "titleFontWeight": "normal", "titleColor": "#333", "titlePadding": 5}},
               "y": {"field": "y", "type": "quantitative", "scale": {"domain": [-0.0028, 0.05], "range": [113, 5], "nice": false, "zero": false},
                     "axis": {"orient": "left", "offset": -28, "values": [0, 0.01, 0.02, 0.03, 0.04, 0.05], "labelExpr": "replace(format(datum.value, '.2f'), '.', ',')", "domain": false, "labelOverlap": false,
                              "tickSize": 1.5, "tickColor": "#666", "labelFontSize": 3.5, "labelColor": "#555", "labelPadding": 1, "labelFont": "Liberation Serif",
                              "title": "Dv/dr (cm³g⁻¹A⁻¹)", "titleFont": "Liberation Serif", "titleFontSize": 7, "titleFontWeight": "normal", "titleColor": "#333", "titlePadding": 2.5}}}},
            {"transform": [{"filter": "datum.k == 'pt'"}],
             "mark": {"type": "square", "size": 7, "color": "#000", "opacity": 1},
             "encoding": {"x": {"field": "d", "type": "quantitative"}, "y": {"field": "y", "type": "quantitative"}}},
            {"data": {"name": "lab"}, "transform": [{"filter": "datum.s == '20Ni'"}],
             "mark": {"type": "rect", "filled": false, "stroke": "#808080", "strokeWidth": 1},
             "encoding": {"x": {"datum": 10, "type": "quantitative"}, "x2": {"datum": 150}, "y": {"datum": -0.0028, "type": "quantitative"}, "y2": {"datum": 0.05}}}
          ]
        }
      ],
      "resolve": {"scale": {"x": "independent", "y": "independent"}, "axis": {"x": "independent", "y": "independent"}}
    }
  ],
  "config": {
    "view": {"stroke": "#8c8c8c", "strokeWidth": 1.2},
    "axis": {"grid": false, "labelOverlap": false, "labelFlush": false, "labelBound": false}
  }
}
